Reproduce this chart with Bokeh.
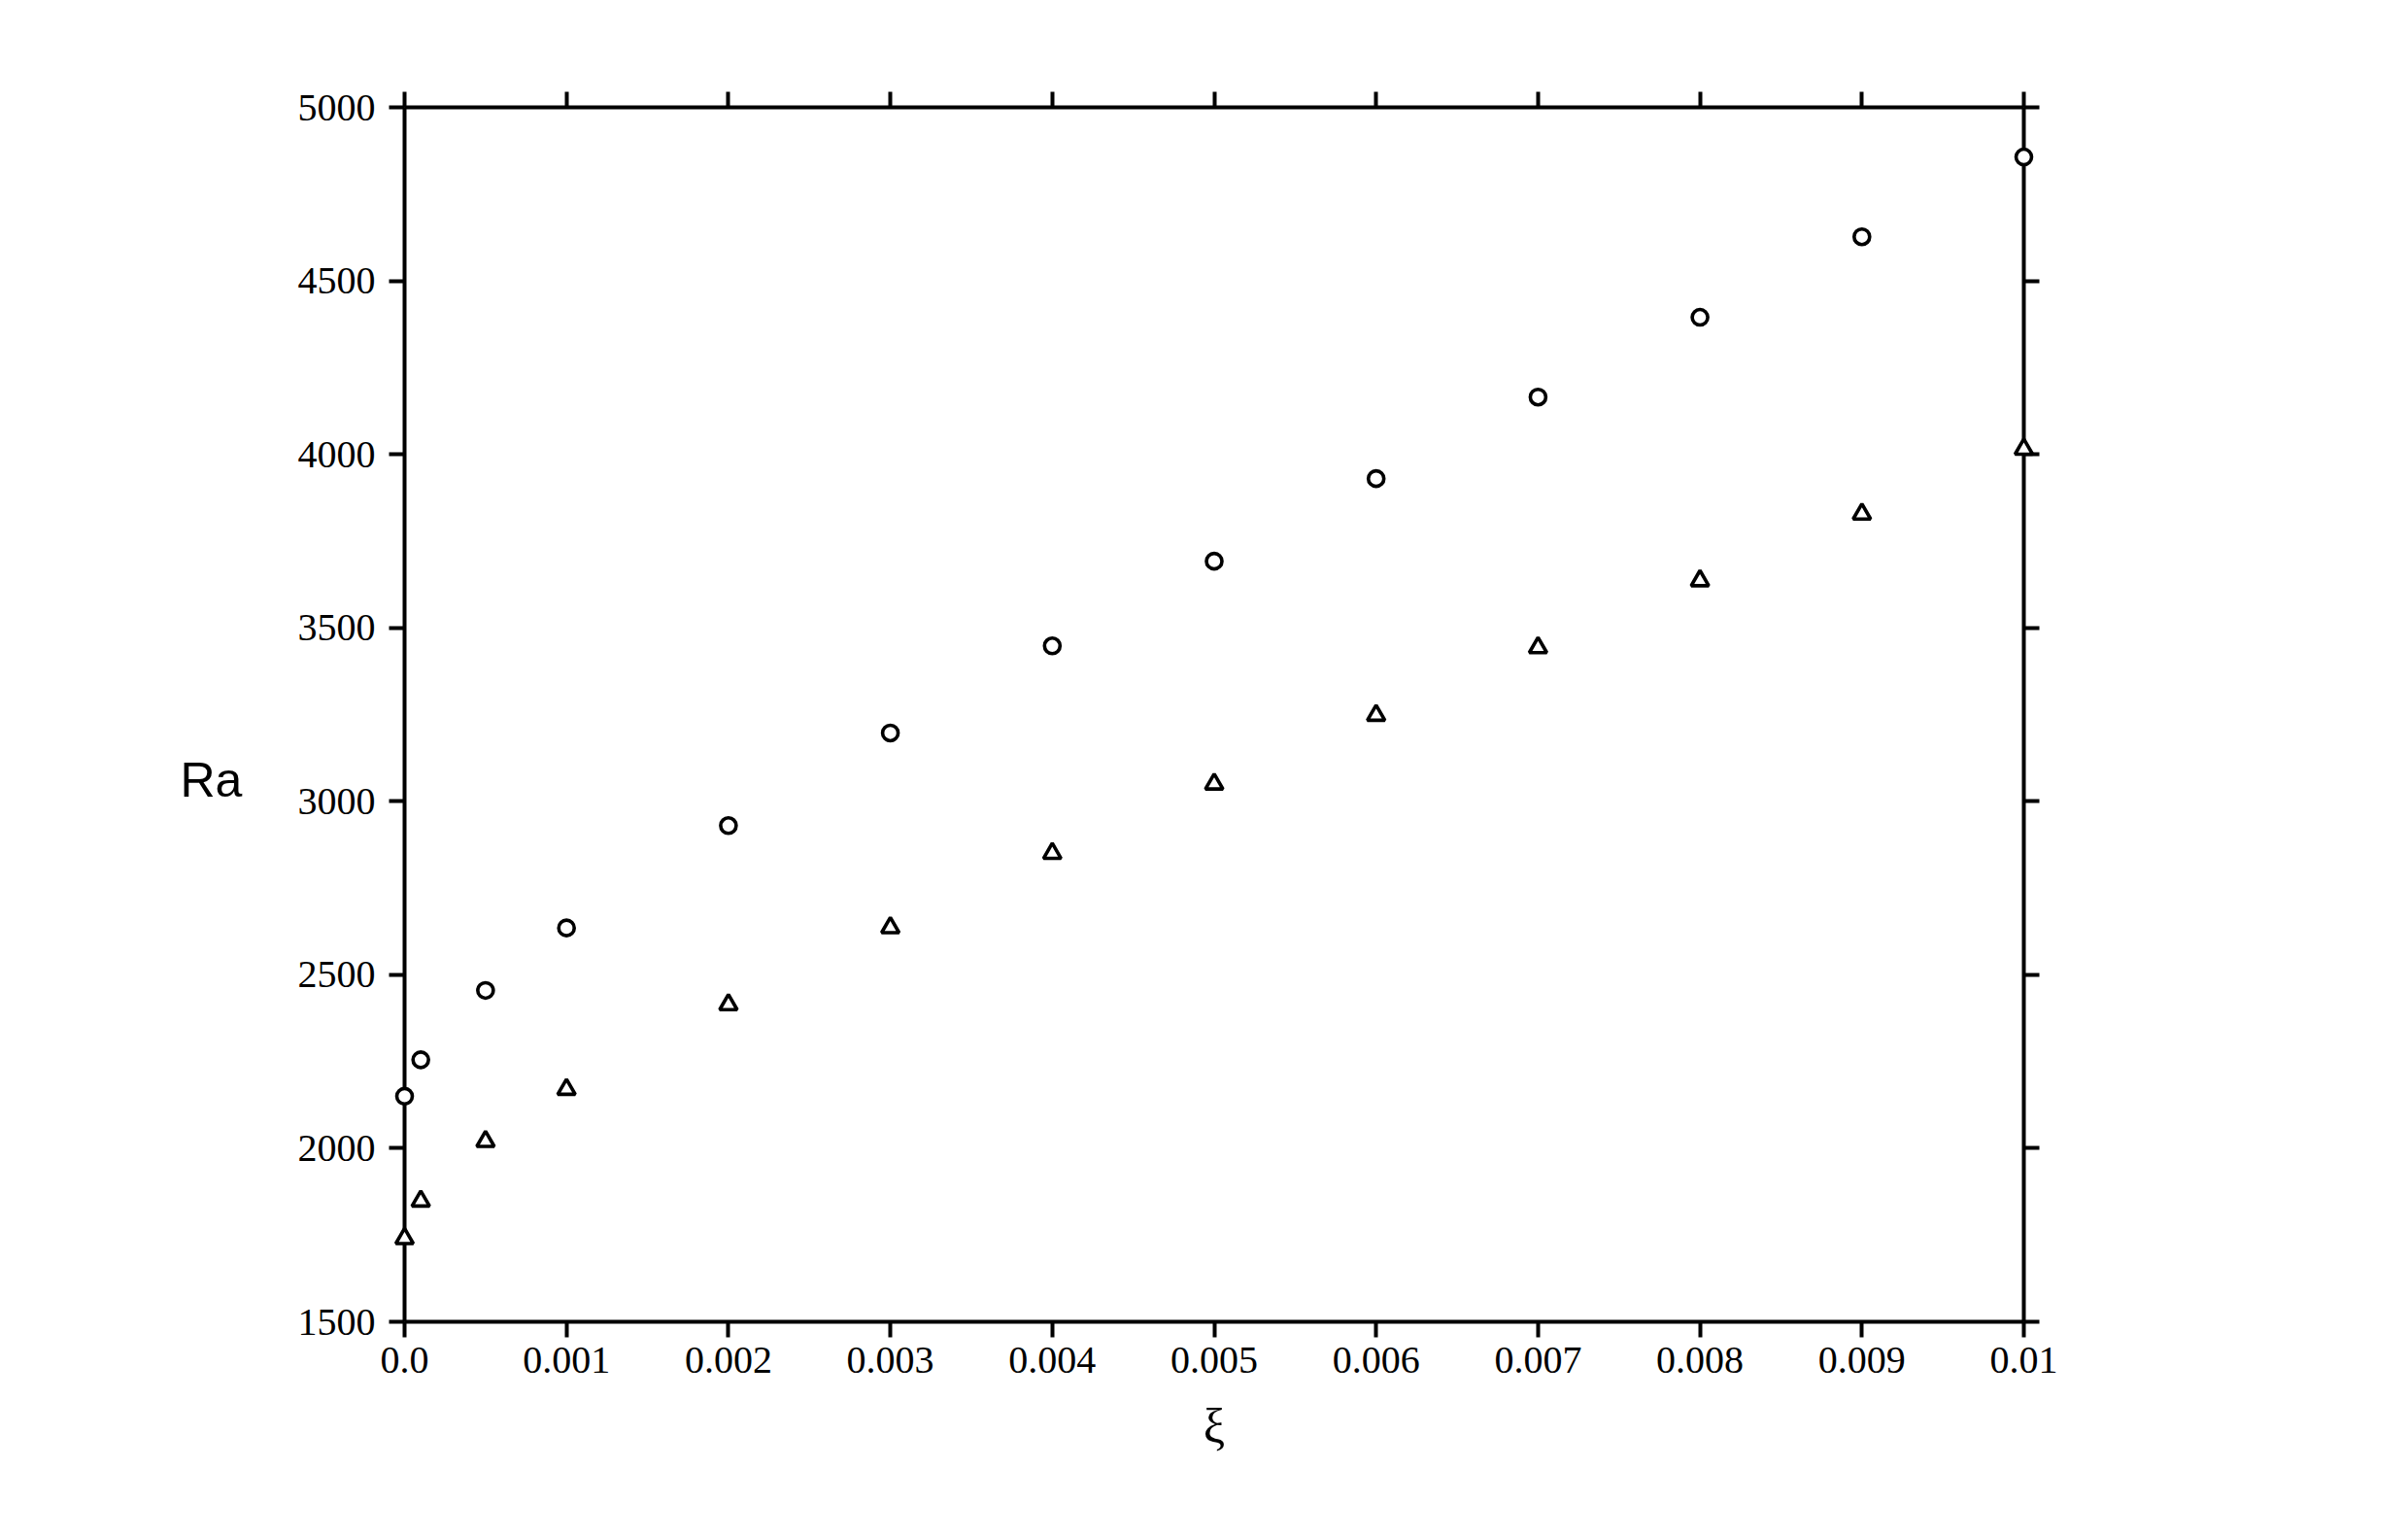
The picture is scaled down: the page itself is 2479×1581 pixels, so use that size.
from bokeh.plotting import figure
from bokeh.models import Range1d, FixedTicker, LinearAxis
from bokeh.core.properties import value
from bokeh.embed import file_html
from bokeh.resources import INLINE

# ---- data ----
xi = [0.0, 0.0001, 0.0005, 0.001, 0.002, 0.003, 0.004, 0.005, 0.006, 0.007, 0.008, 0.009, 0.01]
ra_circle = [2150, 2255, 2455, 2635, 2930, 3197, 3448, 3692, 3930, 4165, 4395, 4627, 4857]
ra_triangle = [1740, 1848, 2020, 2170, 2414, 2636, 2850, 3050, 3248, 3443, 3636, 3828, 4015]

x_ticks = [0.0, 0.001, 0.002, 0.003, 0.004, 0.005, 0.006, 0.007, 0.008, 0.009, 0.01]
x_tick_labels = ["0.0", "0.001", "0.002", "0.003", "0.004", "0.005", "0.006", "0.007", "0.008", "0.009", "0.01"]
y_ticks = [1500, 2000, 2500, 3000, 3500, 4000, 4500, 5000]

y_title = "Ra"
x_title = "ξ"

SERIF = "Liberation Serif"

p = figure(
    output_backend="svg", toolbar_location=None,
    frame_width=1667, frame_height=1250,
    min_border_left=416, min_border_top=110, min_border_right=377, min_border_bottom=200,
    x_range=Range1d(0.0, 0.01), y_range=Range1d(1500, 5000),
    background_fill_color="white", border_fill_color="white",
)
p.outline_line_color = None
p.grid.visible = False

def style_axis(ax, labels=True):
    ax.axis_line_width = 4
    ax.axis_line_color = "black"
    ax.major_tick_line_width = 4
    ax.major_tick_line_color = "black"
    ax.major_tick_out = 16
    ax.major_tick_in = 0
    ax.minor_tick_line_color = None
    ax.major_label_text_font = SERIF
    ax.major_label_text_font_size = "40px"
    ax.major_label_text_color = "black" if labels else None

# bottom axis
xa = p.xaxis[0]
xa.ticker = FixedTicker(ticks=x_ticks)
xa.major_label_overrides = {t: l for t, l in zip(x_ticks, x_tick_labels)}
style_axis(xa)
xa.major_label_standoff = 10
xa.axis_label = x_title
xa.axis_label_text_font = SERIF
xa.axis_label_text_font_style = "normal"
xa.axis_label_text_font_size = "50px"
xa.axis_label_text_color = "black"
xa.axis_label_standoff = 24

# left axis
ya = p.yaxis[0]
ya.ticker = FixedTicker(ticks=y_ticks)
style_axis(ya)
ya.major_label_standoff = 14

# top and right axes (ticks only)
top = LinearAxis(ticker=FixedTicker(ticks=x_ticks))
style_axis(top, labels=False)
p.add_layout(top, "above")
right = LinearAxis(ticker=FixedTicker(ticks=y_ticks))
style_axis(right, labels=False)
p.add_layout(right, "right")

# data markers
p.scatter(xi, ra_circle, marker="circle", size=16, fill_color="white",
          line_color="black", line_width=3.6, level="overlay")
p.scatter(xi, ra_triangle, marker="triangle", size=18, fill_color="white",
          line_color="black", line_width=3.6, level="overlay")

# horizontal y-axis title, drawn unclipped outside the frame
p.text(x=[-0.001194], y=[3060], text=[y_title], text_font=value("Liberation Sans"),
       text_font_size="50px", text_align="center", text_baseline="middle",
       text_color="black", level="overlay")

open("out.html", "w").write(file_html(p, INLINE))
